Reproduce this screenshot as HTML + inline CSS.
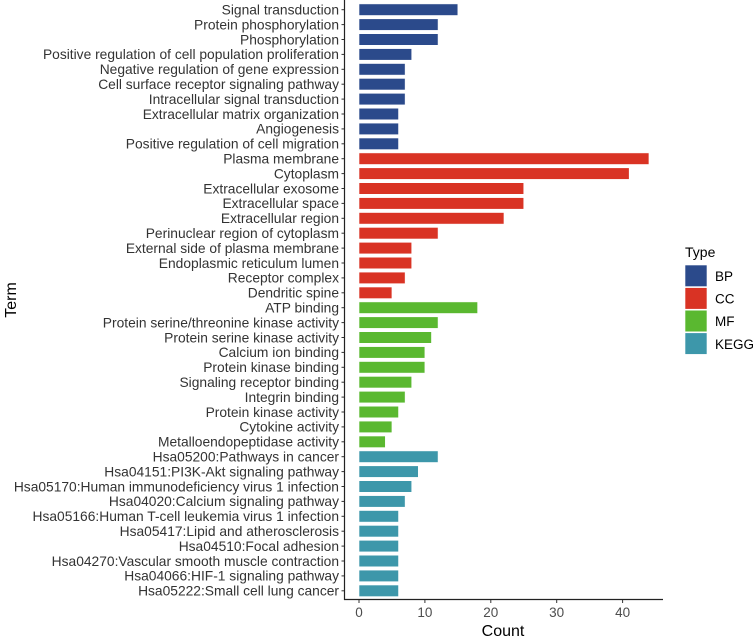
<!DOCTYPE html>
<html><head><meta charset="utf-8"><style>
body{margin:0;background:#fff}
svg text{font-family:"Liberation Sans",Arial,sans-serif}
</style></head><body>
<svg id="chart" width="755" height="639" xmlns="http://www.w3.org/2000/svg"></svg>
<script>
const terms=["Signal transduction","Protein phosphorylation","Phosphorylation","Positive regulation of cell population proliferation","Negative regulation of gene expression","Cell surface receptor signaling pathway","Intracellular signal transduction","Extracellular matrix organization","Angiogenesis","Positive regulation of cell migration","Plasma membrane","Cytoplasm","Extracellular exosome","Extracellular space","Extracellular region","Perinuclear region of cytoplasm","External side of plasma membrane","Endoplasmic reticulum lumen","Receptor complex","Dendritic spine","ATP binding","Protein serine/threonine kinase activity","Protein serine kinase activity","Calcium ion binding","Protein kinase binding","Signaling receptor binding","Integrin binding","Protein kinase activity","Cytokine activity","Metalloendopeptidase activity","Hsa05200:Pathways in cancer","Hsa04151:PI3K-Akt signaling pathway","Hsa05170:Human immunodeficiency virus 1 infection","Hsa04020:Calcium signaling pathway","Hsa05166:Human T-cell leukemia virus 1 infection","Hsa05417:Lipid and atherosclerosis","Hsa04510:Focal adhesion","Hsa04270:Vascular smooth muscle contraction","Hsa04066:HIF-1 signaling pathway","Hsa05222:Small cell lung cancer"];
const counts=[15,12,12,8,7,7,7,6,6,6,44,41,25,25,22,12,8,8,7,5,18,12,11,10,10,8,7,6,5,4,12,9,8,7,6,6,6,6,6,6];
const types=["BP","BP","BP","BP","BP","BP","BP","BP","BP","BP","CC","CC","CC","CC","CC","CC","CC","CC","CC","CC","MF","MF","MF","MF","MF","MF","MF","MF","MF","MF","KEGG","KEGG","KEGG","KEGG","KEGG","KEGG","KEGG","KEGG","KEGG","KEGG"];
const typeNames=["BP","CC","MF","KEGG"];
const xTicks=[0,10,20,30,40];
const colors={BP:"#2b4a8b",CC:"#d93324",MF:"#5ab830",KEGG:"#3d97aa"};
const svg=document.getElementById('chart');
const NS="http://www.w3.org/2000/svg";
const x0=359, pxPer=6.59, y0=9.7, step=14.9, bh=11.6;
const xs=v=>x0+v*pxPer, ys=i=>y0+i*step;
function el(tag,attrs,txt){const e=document.createElementNS(NS,tag);for(const k in attrs)e.setAttribute(k,attrs[k]);if(txt!==undefined)e.textContent=txt;svg.appendChild(e);return e;}
terms.forEach((t,i)=>{
  const r=el('rect',{x:xs(0),y:ys(i)-bh/2,width:xs(counts[i])-xs(0),height:bh,fill:colors[types[i]],stroke:"#fff","stroke-width":0.6});
  
  
  const tk=el('line',{x1:341.5,x2:344.5,y1:ys(i),y2:ys(i),stroke:"#333","stroke-width":1});
  
  
  const lb=el('text',{x:339,y:ys(i)+4.8,"text-anchor":"end","font-size":"13.8",fill:"#333"},t);
  
  
});
const ya=el('line',{x1:344.5,x2:344.5,y1:0,y2:600,stroke:"#222","stroke-width":1.2});


const xa=el('line',{x1:344,x2:663,y1:599.5,y2:599.5,stroke:"#222","stroke-width":1.2});


xTicks.forEach(v=>{
  const t=el('line',{x1:xs(v),x2:xs(v),y1:600,y2:603,stroke:"#333"});
  
  
  const l=el('text',{x:xs(v),y:617,"text-anchor":"middle","font-size":"13.5",fill:"#4d4d4d"},String(v));
  
  
});
const xt=el('text',{x:503,y:636,"text-anchor":"middle","font-size":"16",fill:"#000"},"Count");


const yt=el('text',{x:0,y:0,transform:"translate(16,300) rotate(-90)","text-anchor":"middle","font-size":"16",fill:"#000"},"Term");


const lt=el('text',{x:685,y:257,"font-size":"14",fill:"#000"},"Type");


typeNames.forEach((n,i)=>{
  const r=el('rect',{x:685,y:265+i*22.6,width:22,height:21.6,fill:colors[n],stroke:"#fff","stroke-width":0.6});
  
  
  const l=el('text',{x:715,y:265+i*22.6+16,"font-size":"13.5",fill:"#000"},n);
  
  
});
</script>
</body></html>
